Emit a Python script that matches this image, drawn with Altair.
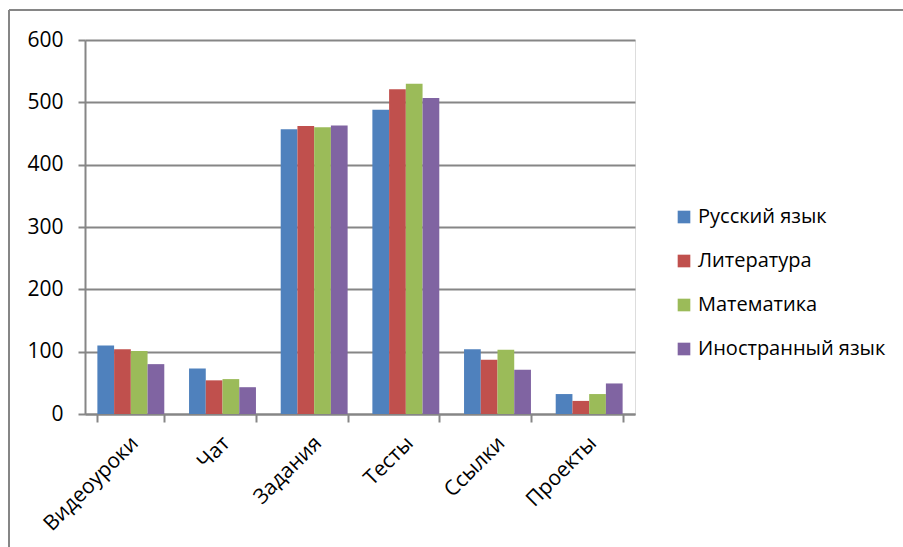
import altair as alt
import pandas as pd

categories = ["Видеоуроки", "Чат", "Задания", "Тесты", "Ссылки", "Проекты"]
series = ["Русский язык", "Литература", "Математика", "Иностранный язык"]
colors = ["#4F81BD", "#C0504D", "#9BBB59", "#8064A2"]

russian = [110, 73, 457, 488, 104, 32]
literature = [104, 54, 462, 521, 87, 21]
math = [101, 56, 460, 530, 103, 32]
foreign = [80, 43, 463, 507, 71, 49]

values = [russian, literature, math, foreign]
rows = []
for s, vals in zip(series, values):
    for c, v in zip(categories, vals):
        rows.append({"category": c, "series": s, "value": v})
df = pd.DataFrame(rows)

FONT = "Open Sans"
GRAY = "#868686"
FS = 21

bars = alt.Chart(df).mark_bar().encode(
    x=alt.X("category:N", sort=categories, title=None,
            scale=alt.Scale(paddingInner=0.27, paddingOuter=0.135),
            axis=alt.Axis(labelAngle=-45, labelFontSize=FS, labelFont=FONT,
                          labelColor="#000000", domainColor=GRAY, domainWidth=2,
                          tickColor=GRAY, tickWidth=2, tickSize=8, tickBand="extent",
                          labelPadding=10, labelOffset=-4, labelLimit=0, grid=False)),
    xOffset=alt.XOffset("series:N", sort=series),
    y=alt.Y("value:Q", title=None,
            scale=alt.Scale(domain=[0, 600], nice=False),
            axis=alt.Axis(values=[0, 100, 200, 300, 400, 500, 600], labelFontSize=FS,
                          labelFont=FONT, labelColor="#000000", domainColor=GRAY,
                          domainWidth=2, tickColor=GRAY, tickWidth=2, tickSize=7,
                          gridColor=GRAY, gridWidth=2, labelPadding=15)),
    color=alt.Color("series:N", sort=series,
                    scale=alt.Scale(domain=series, range=colors),
                    legend=alt.Legend(title=None, orient="none", legendX=589, legendY=167,
                                      symbolType="square", symbolSize=160,
                                      symbolStrokeWidth=0, labelFontSize=20,
                                      labelFont=FONT, labelColor="#000000",
                                      labelLimit=0, rowPadding=24, labelOffset=4)),
)

frame_df = pd.DataFrame({"k": [0]})
top_line = alt.Chart(frame_df).mark_rule(color=GRAY, strokeWidth=2).encode(
    x=alt.value(-76), x2=alt.value(830), y=alt.value(-30))
left_line = alt.Chart(frame_df).mark_rule(color=GRAY, strokeWidth=2).encode(
    x=alt.value(-76), y=alt.value(-30), y2=alt.value(520))

chart = alt.layer(bars, top_line, left_line).properties(
    width=550, height=374,
    autosize=alt.AutoSizeParams(type="none"),
    padding={"left": 85, "top": 40, "right": 268, "bottom": 133},
).configure_view(stroke=None).configure(background="white")

chart.save("out.html", embed_options={"renderer": "svg", "actions": False})
